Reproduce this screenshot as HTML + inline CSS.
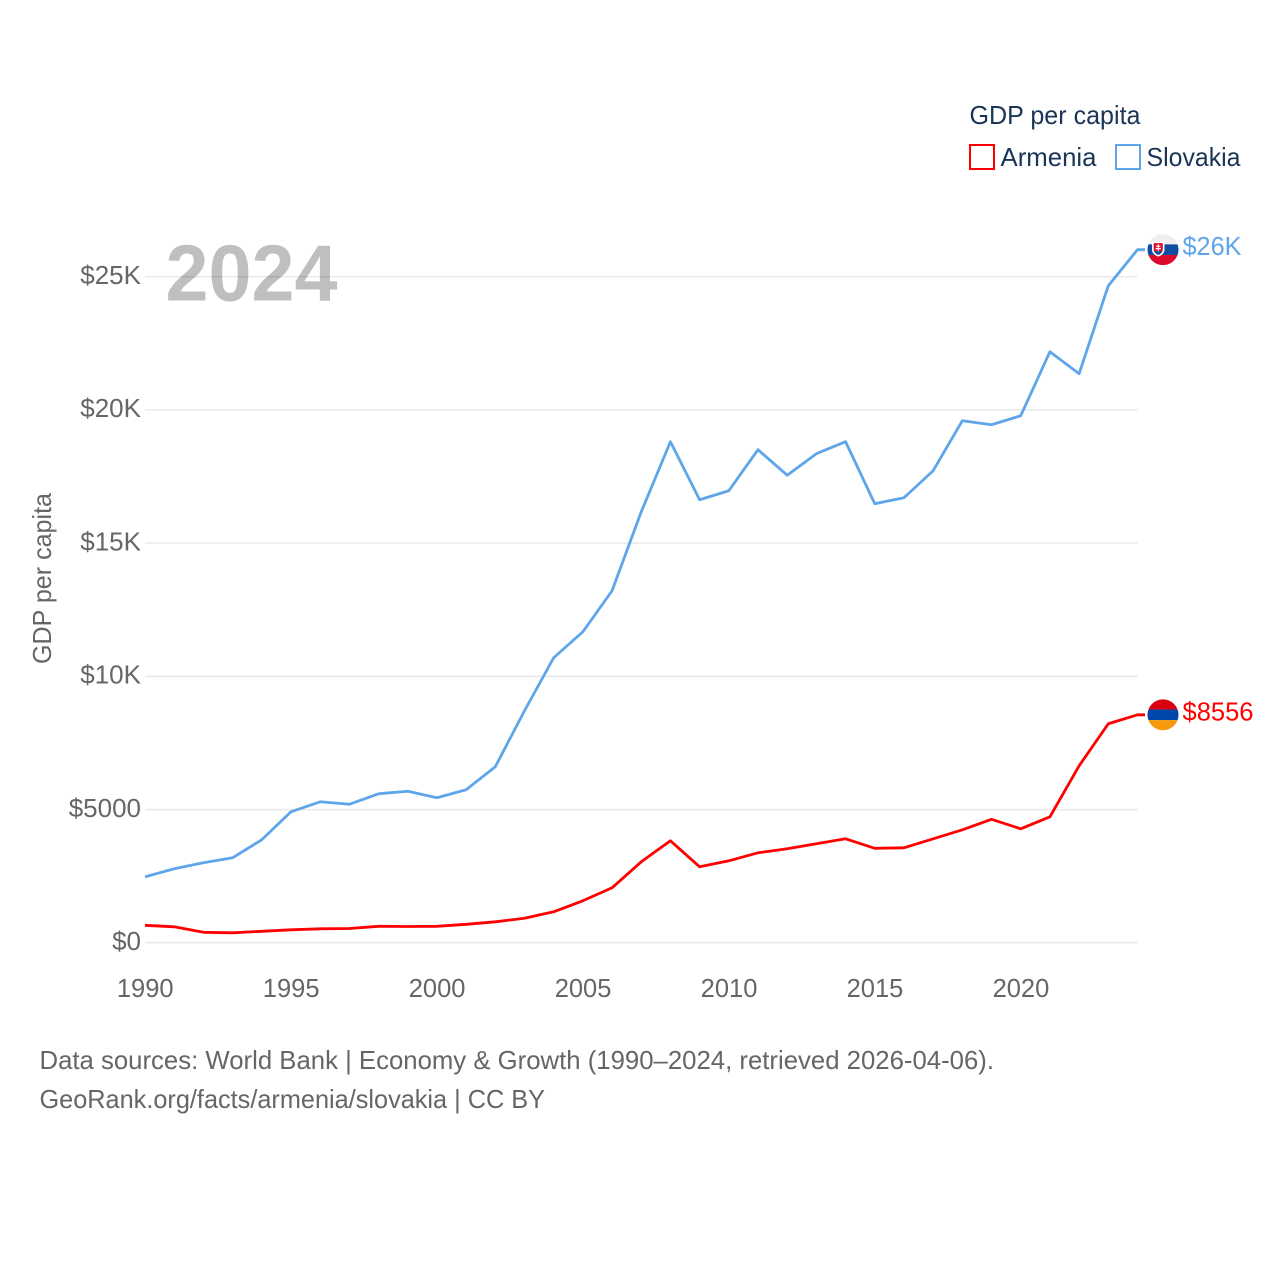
<!DOCTYPE html>
<html lang="en">
<head>
<meta charset="utf-8">
<title>GDP per capita: Armenia and Slovakia</title>
<style>
html,body{margin:0;padding:0;background:#fff;width:1280px;height:1280px;overflow:hidden}
svg{display:block}
text{font-family:"Liberation Sans",sans-serif}
</style>
</head>
<body>
<svg id="chart" width="1280" height="1280" viewBox="0 0 1280 1280" xmlns="http://www.w3.org/2000/svg">
  <defs>
    <clipPath id="flag-clip"><circle cx="0" cy="0" r="15.5"></circle></clipPath>
  </defs>
  <g id="grid"></g>
  <g id="y-ticks"></g>
  <g id="x-ticks"></g>
  <text x="165.5" y="300.5" font-size="80" font-weight="700" fill="#000000" fill-opacity="0.25" textLength="172" lengthAdjust="spacingAndGlyphs">2024</text>
  <text transform="translate(51,664) rotate(-90)" font-size="26" fill="#666666" textLength="171" lengthAdjust="spacingAndGlyphs">GDP per capita</text>
  <g id="series"></g>
  <g id="flag-slovakia">
    <g clip-path="url(#flag-clip)">
      <rect x="-16" y="-16" width="32" height="11" fill="#eeeeee"></rect>
      <rect x="-16" y="-5.3" width="32" height="10.6" fill="#0b4ea2"></rect>
      <rect x="-16" y="5.3" width="32" height="11" fill="#dc0a2c"></rect>
      <path d="M-11,-8 h12.5 v8 q0,4.5 -6.25,7 q-6.25,-2.5 -6.25,-7 z" fill="#ffffff"></path>
      <path d="M-9.3,-6.5 h9.1 v6.5 q0,3.3 -4.55,5.2 q-4.55,-1.9 -4.55,-5.2 z" fill="#dc0a2c"></path>
      <path d="M-4.75,-5.5 v7.5 M-7,-3.5 h4.5 M-7.5,-1 h5.5" stroke="#ffffff" stroke-width="1.1" fill="none"></path>
      <path d="M-8.6,2.2 q1.9,-1.6 3.85,-0.4 q1.9,-1.2 3.85,0.4 q-1.2,2 -3.85,3 q-2.65,-1 -3.85,-3 z" fill="#0b4ea2"></path>
    </g>
  </g>
  <g id="flag-armenia">
    <g clip-path="url(#flag-clip)">
      <rect x="-16" y="-16" width="32" height="10.7" fill="#d90012"></rect>
      <rect x="-16" y="-5.3" width="32" height="10.6" fill="#0047ab"></rect>
      <rect x="-16" y="5.3" width="32" height="11" fill="#f59a0c"></rect>
    </g>
  </g>
  <text id="label-slovakia" x="1182.5" font-size="26" fill="#5fa5ea" textLength="59" lengthAdjust="spacingAndGlyphs"></text>
  <text id="label-armenia" x="1182.5" font-size="26" fill="#ff0000" textLength="71" lengthAdjust="spacingAndGlyphs"></text>
  <g>
    <text x="969.5" y="124" font-size="26" fill="#1b3557" textLength="171" lengthAdjust="spacingAndGlyphs">GDP per capita</text>
    <g>
      <rect x="970" y="145" width="24" height="24" fill="#ffffff" stroke="#ff0000" stroke-width="2"></rect>
      <text x="1000.5" y="166" font-size="26" fill="#1b3557" textLength="96" lengthAdjust="spacingAndGlyphs">Armenia</text>
    </g>
    <g>
      <rect x="1116" y="145" width="24" height="24" fill="#ffffff" stroke="#5fa5ea" stroke-width="2"></rect>
      <text x="1146.5" y="166" font-size="26" fill="#1b3557" textLength="94" lengthAdjust="spacingAndGlyphs">Slovakia</text>
    </g>
  </g>
  <g>
    <text x="39.5" y="1069" font-size="26" fill="#666666" textLength="954.5" lengthAdjust="spacingAndGlyphs">Data sources: World Bank | Economy &amp; Growth (1990–2024, retrieved 2026-04-06).</text>
    <text x="39.5" y="1108" font-size="26" fill="#666666" textLength="505.5" lengthAdjust="spacingAndGlyphs">GeoRank.org/facts/armenia/slovakia | CC BY</text>
  </g>
</svg>
<script>
const years = [1990,1991,1992,1993,1994,1995,1996,1997,1998,1999,2000,2001,2002,2003,2004,2005,2006,2007,2008,2009,2010,2011,2012,2013,2014,2015,2016,2017,2018,2019,2020,2021,2022,2023,2024];
const slovakiaValues = [2477,2778,3003,3191,3866,4917,5293,5199,5593,5687,5443,5743,6607,8709,10698,11674,13213,16179,18806,16629,16967,18506,17549,18356,18806,16479,16704,17718,19595,19444,19782,22185,21359,24662,26014];
const armeniaValues = [657,600,394,375,432,488,525,537,619,612,619,694,788,920,1164,1577,2065,3041,3829,2853,3078,3378,3529,3716,3904,3547,3566,3904,4242,4636,4279,4730,6644,8221,8556];
const yTickValues = [0,5000,10000,15000,20000,25000];
const yTickLabels = ["$0","$5000","$10K","$15K","$20K","$25K"];
const xTickYears = [1990,1995,2000,2005,2010,2015,2020];
const endLabels = ["$26K","$8556"];

const NS = 'http://www.w3.org/2000/svg';
function xScale(year){ return 145 + (year - 1990) * (1137.5 - 145) / (2024 - 1990); }
function yScale(value){ return 942.8 - value * (942.8 - 276.7) / 25000; }

const gridG = document.getElementById('grid');
const yG = document.getElementById('y-ticks');
yTickValues.forEach(function(v, i){
  const line = document.createElementNS(NS, 'line');
  
  
  line.setAttribute('x1', xScale(1990));
  line.setAttribute('x2', xScale(2024));
  line.setAttribute('y1', yScale(v));
  line.setAttribute('y2', yScale(v));
  line.setAttribute('stroke', '#e9e9e9');
  line.setAttribute('stroke-width', '1.5');
  gridG.appendChild(line);
  const t = document.createElementNS(NS, 'text');
  
  
  t.setAttribute('x', 141);
  t.setAttribute('y', yScale(v) + 7.2);
  t.setAttribute('text-anchor', 'end');
  t.setAttribute('font-size', '26');
  t.setAttribute('fill', '#666666');
  t.textContent = yTickLabels[i];
  yG.appendChild(t);
});

const xG = document.getElementById('x-ticks');
xTickYears.forEach(function(yr){
  const t = document.createElementNS(NS, 'text');
  
  
  t.setAttribute('x', xScale(yr) + 0.2);
  t.setAttribute('y', 997);
  t.setAttribute('text-anchor', 'middle');
  t.setAttribute('font-size', '25.5');
  t.setAttribute('fill', '#666666');
  t.textContent = String(yr);
  xG.appendChild(t);
});

function drawSeries(values, color, name){
  const pts = values.map(function(v, i){ return xScale(years[i]).toFixed(2) + ',' + yScale(v).toFixed(2); });
  const last = yScale(values[values.length - 1]);
  pts.push('1145,' + last.toFixed(2));
  const line = document.createElementNS(NS, 'polyline');
  
  
  line.setAttribute('points', pts.join(' '));
  line.setAttribute('fill', 'none');
  line.setAttribute('stroke', color);
  line.setAttribute('stroke-width', '2.8');
  line.setAttribute('stroke-linejoin', 'round');
  document.getElementById('series').appendChild(line);
}
drawSeries(slovakiaValues, '#5fa5ea', 'slovakia-line');
drawSeries(armeniaValues, '#ff0000', 'armenia-line');

const sEnd = yScale(slovakiaValues[slovakiaValues.length - 1]);
const aEnd = yScale(armeniaValues[armeniaValues.length - 1]);
document.getElementById('flag-slovakia').setAttribute('transform', 'translate(1163,' + sEnd + ')');
document.getElementById('flag-armenia').setAttribute('transform', 'translate(1163,' + aEnd + ')');
const ls = document.getElementById('label-slovakia');
ls.setAttribute('y', sEnd + 5.5);
ls.textContent = endLabels[0];
const la = document.getElementById('label-armenia');
la.setAttribute('y', aEnd + 5.5);
la.textContent = endLabels[1];
</script>
</body>
</html>
